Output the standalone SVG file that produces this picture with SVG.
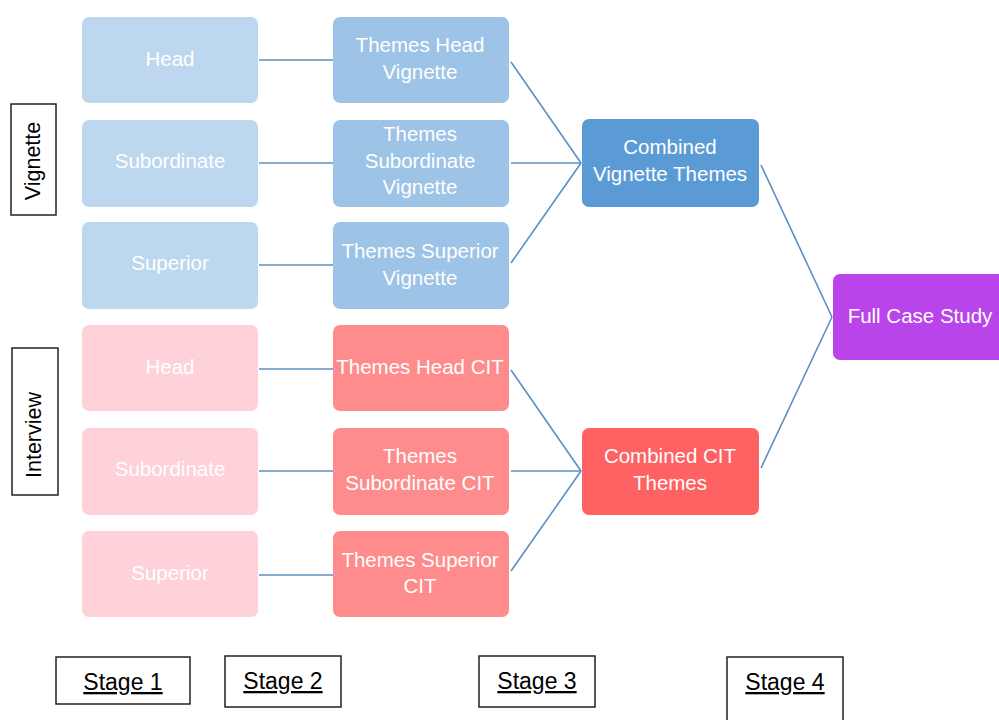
<svg xmlns="http://www.w3.org/2000/svg" width="999" height="720" viewBox="0 0 999 720">
<style>
.n rect{rx:7px;ry:7px}
.t{font-family:"Liberation Sans",Arial,sans-serif;font-size:20.5px;fill:#ffffff;text-anchor:middle}
.b1 rect{fill:#BDD7EE}
.b2 rect{fill:#9DC3E6}
.b3 rect{fill:#5B9BD5}
.p1 rect{fill:#FFD1D9}
.p2 rect{fill:#FF8C8C}
.p3 rect{fill:#FF6262}
.f rect{fill:#B944EA}
.c line{stroke:#5B8FC3;stroke-width:1.6}
.lab rect{fill:#fff;stroke:#222;stroke-width:1.5}
.lt{font-family:"Liberation Sans",Arial,sans-serif;font-size:21.5px;fill:#000;text-anchor:middle}
.st{font-family:"Liberation Sans",Arial,sans-serif;font-size:23px;fill:#000;text-anchor:middle;text-decoration:underline}
</style>
<rect width="999" height="720" fill="#fff"/>
<g class="c">
<line x1="259" y1="60" x2="333" y2="60"/>
<line x1="259" y1="163" x2="333" y2="163"/>
<line x1="259" y1="265" x2="333" y2="265"/>
<line x1="259" y1="369" x2="333" y2="369"/>
<line x1="259" y1="471" x2="333" y2="471"/>
<line x1="259" y1="575" x2="333" y2="575"/>
<line x1="511" y1="62" x2="581" y2="163"/>
<line x1="511" y1="163" x2="581" y2="163"/>
<line x1="511" y1="263" x2="581" y2="163"/>
<line x1="511" y1="370" x2="581" y2="471"/>
<line x1="511" y1="471" x2="581" y2="471"/>
<line x1="511" y1="571" x2="581" y2="471"/>
<line x1="761" y1="165" x2="832" y2="317"/>
<line x1="761" y1="468" x2="832" y2="317"/>
</g>
<g id="v-head" class="n b1"><rect x="82" y="17" width="176" height="86"/><text class="t" x="170" y="66">Head</text></g>
<g id="v-sub" class="n b1"><rect x="82" y="120" width="176" height="87"/><text class="t" x="170" y="168">Subordinate</text></g>
<g id="v-sup" class="n b1"><rect x="82" y="222" width="176" height="87"/><text class="t" x="170" y="270">Superior</text></g>
<g id="i-head" class="n p1"><rect x="82" y="325" width="176" height="86"/><text class="t" x="170" y="374">Head</text></g>
<g id="i-sub" class="n p1"><rect x="82" y="428" width="176" height="87"/><text class="t" x="170" y="476">Subordinate</text></g>
<g id="i-sup" class="n p1"><rect x="82" y="531" width="176" height="86"/><text class="t" x="170" y="580">Superior</text></g>
<g id="tv-head" class="n b2"><rect x="333" y="17" width="176" height="86"/><text class="t" x="420" y="52">Themes Head</text><text class="t" x="420" y="79">Vignette</text></g>
<g id="tv-sub" class="n b2"><rect x="333" y="120" width="176" height="87"/><text class="t" x="420" y="141">Themes</text><text class="t" x="420" y="168">Subordinate</text><text class="t" x="420" y="194">Vignette</text></g>
<g id="tv-sup" class="n b2"><rect x="333" y="222" width="176" height="87"/><text class="t" x="420" y="258">Themes Superior</text><text class="t" x="420" y="285">Vignette</text></g>
<g id="ti-head" class="n p2"><rect x="333" y="325" width="176" height="86"/><text class="t" x="420" y="374">Themes Head CIT</text></g>
<g id="ti-sub" class="n p2"><rect x="333" y="428" width="176" height="87"/><text class="t" x="420" y="463">Themes</text><text class="t" x="420" y="490">Subordinate CIT</text></g>
<g id="ti-sup" class="n p2"><rect x="333" y="531" width="176" height="86"/><text class="t" x="420" y="567">Themes Superior</text><text class="t" x="420" y="593">CIT</text></g>
<g id="comb-v" class="n b3"><rect x="582" y="119" width="177" height="88"/><text class="t" x="670" y="154">Combined</text><text class="t" x="670" y="181">Vignette Themes</text></g>
<g id="comb-c" class="n p3"><rect x="582" y="428" width="177" height="87"/><text class="t" x="670" y="463">Combined CIT</text><text class="t" x="670" y="490">Themes</text></g>
<g id="full" class="n f"><rect x="833" y="274" width="176" height="86"/><text class="t" x="920" y="323">Full Case Study</text></g>
<g id="lab-vignette" class="lab"><rect x="11" y="104" width="45" height="111"/><text class="lt" transform="translate(40,161) rotate(-90)">Vignette</text></g>
<g id="lab-interview" class="lab"><rect x="12" y="348" width="46" height="147"/><text class="lt" transform="translate(41,435) rotate(-90)">Interview</text></g>
<g id="stage1" class="lab"><rect x="56" y="657" width="134" height="47"/><text class="st" x="123" y="690">Stage 1</text></g>
<g id="stage2" class="lab"><rect x="225" y="656" width="116" height="51"/><text class="st" x="283" y="689">Stage 2</text></g>
<g id="stage3" class="lab"><rect x="479" y="656" width="116" height="51"/><text class="st" x="537" y="689">Stage 3</text></g>
<g id="stage4" class="lab"><rect x="727" y="657" width="116" height="70"/><text class="st" x="785" y="690">Stage 4</text></g>
</svg>
